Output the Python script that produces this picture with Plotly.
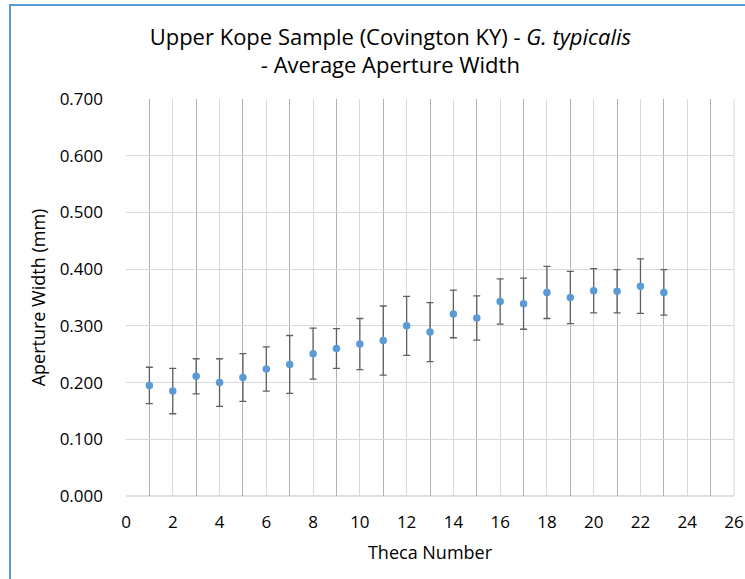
import plotly.graph_objects as go

# theca number vs average aperture width (mm), with error bar half-widths
theca = list(range(1, 24))
width_mm = [0.195, 0.185, 0.211, 0.200, 0.209, 0.224, 0.232, 0.251, 0.260, 0.268,
            0.274, 0.300, 0.289, 0.321, 0.314, 0.343, 0.339, 0.359, 0.350, 0.362,
            0.361, 0.370, 0.359]
err_mm = [0.032, 0.040, 0.031, 0.042, 0.042, 0.039, 0.051, 0.045, 0.035, 0.045,
          0.061, 0.052, 0.052, 0.042, 0.039, 0.040, 0.045, 0.046, 0.046, 0.039,
          0.038, 0.048, 0.040]

x_ticks = list(range(0, 27, 2))
y_ticks = [0.0, 0.1, 0.2, 0.3, 0.4, 0.5, 0.6, 0.7]

font = "Open Sans, Noto Sans, sans-serif"

fig = go.Figure()
fig.add_trace(go.Scatter(
    x=theca, y=width_mm, mode="markers",
    marker=dict(color="#5b9bd5", size=7.5),
    error_y=dict(type="data", array=err_mm, visible=True,
                 color="#5f5f5f", thickness=1.3, width=3.5),
    showlegend=False,
))

# outer chart border (top and left edges only are visible)
L, R, T, B = 126, 11, 99, 83
pw, ph = 745 - L - R, 579 - T - B
def px(x): return (x - L) / pw
def py(y): return (579 - B - y) / ph
fig.add_shape(type="line", xref="paper", yref="paper",
              x0=px(9), x1=px(745), y0=py(5), y1=py(5),
              line=dict(color="#5b9bd5", width=2))
fig.add_shape(type="line", xref="paper", yref="paper",
              x0=px(10), x1=px(10), y0=py(5), y1=py(579),
              line=dict(color="#5b9bd5", width=2))

fig.update_layout(
    width=745, height=579,
    margin=dict(l=L, r=R, t=T, b=B),
    paper_bgcolor="white", plot_bgcolor="white",
    font=dict(family=font, size=17, color="#000000"),
    title=dict(
        text="Upper Kope Sample (Covington KY) - <i>G. typicalis</i><br>- Average Aperture Width",
        x=0.524, xanchor="center", y=0.923, yanchor="middle",
        font=dict(family=font, size=22, color="#000000"),
    ),
    xaxis=dict(
        range=[0, 26], tickvals=x_ticks, ticks="", ticklabelstandoff=14,
        automargin=False,
        showgrid=True, gridcolor="#d9d9d9", gridwidth=1,
        minor=dict(dtick=1, tick0=0, showgrid=True, gridcolor="#b0b0b0", gridwidth=1),
        showline=False, zeroline=False,
        title=dict(text="Theca Number", font=dict(size=18), standoff=14),
        tickfont=dict(size=17),
    ),
    yaxis=dict(
        range=[0, 0.7], tickvals=y_ticks, tickformat=".3f", ticks="",
        ticklabelstandoff=22, automargin=False,
        showgrid=True, gridcolor="#d9d9d9", gridwidth=1,
        showline=False, zeroline=False,
        title=dict(text="Aperture Width (mm)", font=dict(size=18), standoff=9),
        tickfont=dict(size=17),
    ),
)
fig.add_shape(type="line", xref="paper", yref="paper", x0=0, x1=1, y0=0, y1=0,
              line=dict(color="#bfbfbf", width=1), layer="below")
fig.add_shape(type="line", xref="paper", yref="paper", x0=1, x1=1, y0=0, y1=1,
              line=dict(color="#d9d9d9", width=1), layer="below")

fig.write_html("out.html", config={"displayModeBar": False},
               post_script="document.body.style.margin='0';")
